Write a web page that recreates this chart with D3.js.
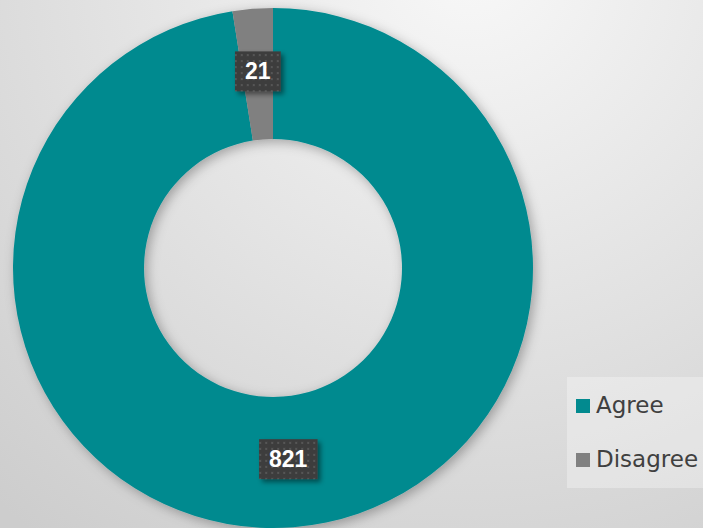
<!DOCTYPE html>
<html>
<head>
<meta charset="utf-8">
<script src="https://cdn.jsdelivr.net/npm/d3@7"></script>
<style>
  html, body { margin: 0; padding: 0; overflow: hidden; }
  #chart { width: 703px; height: 528px; }
</style>
</head>
<body>
<div id="chart"></div>
<script>
var categories = ["Agree", "Disagree"];
var counts = [821, 21];
var colors = ["#028a8f", "#808080"];

var width = 703,
    height = 528;

var cx = 273, cy = 268,
    outerRadius = 260,
    innerRadius = 129;

var svg = d3.select("#chart")
  .append("svg")
    .attr("width", width)
    .attr("height", height);

var defs = svg.append("defs");

// soft grey background, brightest near the top
var bg = defs.append("radialGradient")
    .attr("id", "bg")
    .attr("gradientUnits", "userSpaceOnUse")
    .attr("cx", 470).attr("cy", -40)
    .attr("r", 720);
bg.append("stop").attr("offset", "0%").attr("stop-color", "#f8f8f8");
bg.append("stop").attr("offset", "100%").attr("stop-color", "#cdcdcd");

var shadow = defs.append("filter")
    .attr("id", "ringShadow")
    .attr("x", "-20%").attr("y", "-20%")
    .attr("width", "140%").attr("height", "140%");
shadow.append("feDropShadow")
    .attr("dx", 3).attr("dy", 3)
    .attr("stdDeviation", 6)
    .attr("flood-color", "#000")
    .attr("flood-opacity", 0.3);

var labelShadow = defs.append("filter")
    .attr("id", "labelShadow")
    .attr("x", "-30%").attr("y", "-30%")
    .attr("width", "160%").attr("height", "160%");
labelShadow.append("feDropShadow")
    .attr("dx", 3).attr("dy", 3)
    .attr("stdDeviation", 2.5)
    .attr("flood-color", "#000")
    .attr("flood-opacity", 0.45);

// dotted fill for the data label boxes
var dots = defs.append("pattern")
    .attr("id", "dots")
    .attr("patternUnits", "userSpaceOnUse")
    .attr("width", 6).attr("height", 6);
dots.append("rect").attr("width", 6).attr("height", 6).attr("fill", "#3e3e3e");
dots.append("rect").attr("x", 1).attr("y", 1).attr("width", 2).attr("height", 2).attr("fill", "#565656");

svg.append("rect")
    .attr("width", width)
    .attr("height", height)
    .attr("fill", "url(#bg)");

var data = categories.map(function(c, i) {
  return { name: c, value: counts[i], color: colors[i] };
});

var pie = d3.pie()
    .sort(null)
    .value(function(d) { return d.value; });

var arc = d3.arc()
    .innerRadius(innerRadius)
    .outerRadius(outerRadius);

var arcs = pie(data);

var ring = svg.append("g")
    .attr("transform", "translate(" + cx + "," + cy + ")");

ring.append("g")
    .attr("filter", "url(#ringShadow)")
  .selectAll("path")
  .data(arcs)
  .enter()
    .append("path")
    .attr("d", arc)
    .attr("fill", function(d) { return d.data.color; });

// data labels at slice centroids
var labels = ring.selectAll("g.label")
  .data(arcs)
  .enter()
    .append("g")
    .attr("class", "label")
    .attr("transform", function(d) {
      var c = arc.centroid(d);
      return "translate(" + c[0] + "," + (c[1] - 3) + ")";
    });

labels.append("text")
    .attr("text-anchor", "middle")
    .attr("dy", "0.36em")
    .attr("font-family", "Liberation Sans, Arial, sans-serif")
    .attr("font-weight", "bold")
    .attr("font-size", "23px")
    .attr("fill", "#fff")
    .text(function(d) { return d.data.value; });

labels.each(function() {
  var g = d3.select(this);
  var bb = g.select("text").node().getBBox();
  var padX = 10, padY = 7;
  g.insert("rect", "text")
      .attr("x", bb.x - padX)
      .attr("y", bb.y - padY)
      .attr("width", bb.width + padX * 2)
      .attr("height", bb.height + padY * 2)
      .attr("fill", "url(#dots)")
      .attr("filter", "url(#labelShadow)");
});

// legend
var legend = svg.append("g")
    .attr("transform", "translate(567,377)");

legend.append("rect")
    .attr("width", 140)
    .attr("height", 111)
    .attr("fill", "#ffffff")
    .attr("fill-opacity", 0.3);

var legendItem = legend.selectAll("g.item")
  .data(data)
  .enter()
    .append("g")
    .attr("class", "item")
    .attr("transform", function(d, i) { return "translate(9," + (22 + i * 54) + ")"; });

legendItem.append("rect")
    .attr("width", 14)
    .attr("height", 14)
    .attr("fill", function(d) { return d.color; });

legendItem.append("text")
    .attr("x", 20)
    .attr("y", 14)
    .attr("font-family", "DejaVu Sans, Verdana, sans-serif")
    .attr("font-size", "23px")
    .attr("fill", "#404040")
    .text(function(d) { return d.name; });
</script>
</body>
</html>
